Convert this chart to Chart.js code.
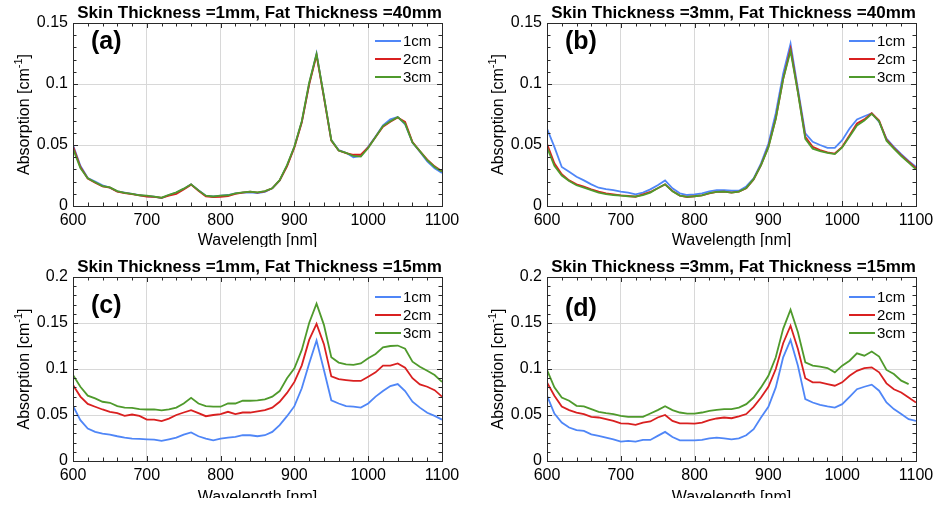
<!DOCTYPE html>
<html>
<head>
<meta charset="utf-8">
<script src="https://cdn.jsdelivr.net/npm/chart.js@4.4.1/dist/chart.umd.min.js"></script>
<style>
  html, body { margin: 0; padding: 0; background: #fff; }
  body { width: 935px; height: 505px; position: relative; overflow: hidden; }
  canvas { position: absolute; }
</style>
</head>
<body>
<canvas id="pa" width="465" height="250" style="left:0;top:0"></canvas>
<canvas id="pb" width="465" height="250" style="left:474px;top:0"></canvas>
<canvas id="pc" width="465" height="251" style="left:0;top:254px"></canvas>
<canvas id="pd" width="465" height="251" style="left:474px;top:254px"></canvas>
<script>
const wavelength = [600,610,620,630,640,650,660,670,680,690,700,710,720,730,740,750,760,770,780,790,800,
  810,820,830,840,850,860,870,880,890,900,910,920,930,940,950,960,970,980,990,1000,
  1010,1020,1030,1040,1050,1060,1070,1080,1090,1100];
const seriesNames = ['1cm', '2cm', '3cm'];
const xTicks = [600, 700, 800, 900, 1000, 1100];

// (a) skin 1mm, fat 40mm
const aBlue = [0.050,0.033,0.023,0.020,0.017,0.015,0.012,0.011,0.010,0.009,0.008,0.0076,0.0065,0.009,0.011,0.014,0.0177,0.013,0.0085,0.0078,0.0085,
  0.009,0.0104,0.011,0.0112,0.0105,0.0115,0.0145,0.021,0.033,0.0485,0.069,0.100,0.125,0.0895,0.054,0.0458,0.0436,0.040,0.041,0.0485,
  0.057,0.066,0.071,0.073,0.067,0.052,0.0445,0.0365,0.031,0.027];
const aRed = [0.049,0.032,0.0225,0.019,0.016,0.015,0.0118,0.0105,0.0098,0.0088,0.0078,0.0074,0.0066,0.0085,0.010,0.0135,0.0175,0.0125,0.0078,0.0072,0.0075,
  0.0082,0.010,0.011,0.0117,0.011,0.012,0.0145,0.021,0.0325,0.048,0.0685,0.0995,0.1235,0.089,0.0535,0.0455,0.0433,0.042,0.042,0.048,
  0.0565,0.065,0.069,0.0725,0.069,0.0525,0.045,0.038,0.0325,0.0285];
const aGreen = [0.047,0.031,0.0228,0.0195,0.0163,0.0152,0.0122,0.0108,0.0100,0.0088,0.0085,0.0076,0.0068,0.0092,0.0112,0.0142,0.0178,0.0128,0.0085,0.0078,0.0085,
  0.0088,0.0104,0.0112,0.0118,0.0112,0.0122,0.0145,0.0212,0.0335,0.0488,0.0695,0.101,0.1245,0.090,0.054,0.0455,0.0435,0.041,0.0405,0.0475,
  0.0565,0.0655,0.0695,0.0728,0.0675,0.052,0.045,0.0375,0.032,0.0282];

// (b) skin 3mm, fat 40mm
const bBlue = [0.0635,0.0485,0.032,0.028,0.024,0.021,0.0177,0.015,0.0139,0.013,0.0117,0.011,0.0095,0.011,0.0136,0.017,0.021,0.0145,0.0104,0.009,0.0095,
  0.0104,0.012,0.013,0.013,0.0125,0.0125,0.016,0.0226,0.035,0.051,0.076,0.1085,0.133,0.096,0.0595,0.0526,0.050,0.0477,0.0477,0.054,
  0.0635,0.071,0.0736,0.076,0.069,0.0553,0.0485,0.0425,0.037,0.032];
const bRed = [0.051,0.035,0.026,0.021,0.0177,0.0158,0.0136,0.0117,0.0104,0.0095,0.0087,0.0082,0.0076,0.0095,0.0115,0.0145,0.0177,0.0123,0.0085,0.0074,0.008,
  0.0087,0.0104,0.0115,0.0117,0.011,0.0117,0.0145,0.0218,0.0335,0.0485,0.0717,0.104,0.129,0.0935,0.0567,0.0485,0.0458,0.0439,0.043,0.0485,
  0.058,0.0676,0.071,0.076,0.070,0.0545,0.0477,0.0417,0.0363,0.031];
const bGreen = [0.048,0.033,0.025,0.0205,0.017,0.015,0.013,0.011,0.0098,0.009,0.0085,0.008,0.0078,0.009,0.011,0.0145,0.0178,0.012,0.0085,0.0075,0.008,
  0.0087,0.0105,0.0115,0.0117,0.011,0.0118,0.0148,0.022,0.0335,0.048,0.0715,0.104,0.127,0.093,0.055,0.047,0.045,0.0435,0.0425,0.048,
  0.057,0.066,0.070,0.0755,0.0695,0.0535,0.047,0.041,0.0355,0.030];

// (c) skin 1mm, fat 15mm
const cBlue = [0.060,0.0444,0.0353,0.0316,0.0298,0.0287,0.0269,0.0255,0.0244,0.024,0.0236,0.0233,0.0218,0.0236,0.0255,0.0287,0.031,0.0269,0.0244,0.0225,0.0244,
  0.0255,0.0262,0.028,0.028,0.0269,0.028,0.0316,0.039,0.0487,0.0596,0.079,0.106,0.131,0.099,0.066,0.0625,0.0596,0.059,0.058,0.0625,
  0.070,0.076,0.0815,0.0836,0.076,0.0644,0.058,0.0524,0.049,0.045];
const cRed = [0.0825,0.070,0.062,0.059,0.056,0.0535,0.052,0.049,0.0505,0.049,0.045,0.045,0.0433,0.046,0.050,0.0527,0.0553,0.052,0.0487,0.050,0.051,
  0.0535,0.051,0.0527,0.0527,0.054,0.0553,0.058,0.0644,0.074,0.086,0.104,0.1316,0.149,0.127,0.092,0.089,0.088,0.087,0.087,0.0916,
  0.0964,0.1036,0.1036,0.106,0.1015,0.090,0.0833,0.0807,0.077,0.070];
const cGreen = [0.0935,0.0807,0.071,0.068,0.0644,0.0633,0.0596,0.058,0.0578,0.0564,0.056,0.056,0.055,0.056,0.058,0.0625,0.0687,0.0625,0.0596,0.059,0.059,
  0.0625,0.0625,0.0655,0.0655,0.066,0.067,0.070,0.076,0.090,0.1007,0.1207,0.150,0.171,0.148,0.1127,0.107,0.105,0.1044,0.106,0.1116,
  0.1164,0.1236,0.125,0.1255,0.122,0.108,0.1025,0.098,0.0935,0.086];

// (d) skin 3mm, fat 15mm
const dBlue = [0.071,0.0516,0.0418,0.0364,0.0335,0.0327,0.029,0.0273,0.0255,0.0236,0.021,0.0218,0.021,0.0229,0.0229,0.0273,0.0316,0.026,0.0225,0.0225,0.0225,
  0.0229,0.0247,0.0255,0.0247,0.0236,0.0247,0.028,0.0345,0.0473,0.0589,0.080,0.1127,0.1316,0.1036,0.0673,0.0636,0.061,0.0593,0.058,0.0618,
  0.0698,0.078,0.0807,0.083,0.0764,0.0636,0.0564,0.051,0.0455,0.0436];
const dRed = [0.0855,0.071,0.0593,0.0553,0.0527,0.051,0.048,0.0473,0.0455,0.0436,0.041,0.0407,0.0393,0.0418,0.043,0.0473,0.050,0.0436,0.041,0.041,0.0407,
  0.0418,0.0444,0.0462,0.0473,0.0465,0.0484,0.051,0.0589,0.069,0.0807,0.100,0.128,0.147,0.1218,0.090,0.0855,0.0855,0.0836,0.0818,0.0855,
  0.0927,0.098,0.101,0.1018,0.0964,0.0844,0.078,0.0745,0.069,0.0636];
const dGreen = [0.099,0.080,0.069,0.0655,0.060,0.0593,0.0564,0.0535,0.052,0.051,0.049,0.048,0.048,0.048,0.0516,0.0553,0.0596,0.0553,0.0527,0.0516,0.0516,
  0.0527,0.0545,0.0556,0.0564,0.0564,0.058,0.0618,0.069,0.080,0.0927,0.1127,0.1436,0.1644,0.140,0.1073,0.1036,0.1025,0.101,0.0964,0.1036,
  0.109,0.117,0.1145,0.119,0.1135,0.099,0.0945,0.0873,0.0836,null];

const colors = ['#4f86f7', '#d92020', '#4f9a2c'];
const FONT = "'Liberation Sans', Arial, sans-serif";

// frame, inward ticks, titles, panel letter, legend
const decoPlugin = {
  id: 'deco',
  afterDraw(chart) {
    const o = chart.options.plugins.deco;
    const ctx = chart.ctx;
    const a = chart.chartArea;
    const xs = chart.scales.x, ys = chart.scales.y;
    ctx.save();
    ctx.strokeStyle = '#2a2a2a';
    ctx.lineWidth = 1;
    ctx.beginPath();
    for (let v = 600; v <= 1100; v += 20) {
      const px = Math.round(xs.getPixelForValue(v)) + 0.5;
      const len = v % 100 === 0 ? 5 : 3.5;
      ctx.moveTo(px, a.bottom); ctx.lineTo(px, a.bottom - len);
      ctx.moveTo(px, a.top); ctx.lineTo(px, a.top + len);
    }
    const n = Math.round(o.yMax / 0.01);
    for (let i = 0; i <= n; i++) {
      const py = Math.round(ys.getPixelForValue(i * 0.01)) + 0.5;
      const len = i % 5 === 0 ? 5 : 3.5;
      ctx.moveTo(a.left, py); ctx.lineTo(a.left + len, py);
      ctx.moveTo(a.right, py); ctx.lineTo(a.right - len, py);
    }
    ctx.stroke();
    ctx.strokeRect(Math.round(a.left) + 0.5, Math.round(a.top) + 0.5,
      Math.round(a.right - a.left), Math.round(a.bottom - a.top));

    // title
    ctx.fillStyle = '#000';
    ctx.font = 'bold 17px ' + FONT;
    ctx.textAlign = 'center';
    ctx.textBaseline = 'alphabetic';
    ctx.fillText(o.title, (a.left + a.right) / 2 + 2, a.top - 5);

    // panel letter
    ctx.font = 'bold 25px ' + FONT;
    ctx.textAlign = 'left';
    ctx.textBaseline = 'middle';
    ctx.fillText(o.letter, a.left + 18, o.letterY);

    // legend
    ctx.font = '15px ' + FONT;
    ctx.lineWidth = 2;
    chart.data.datasets.forEach((ds, i) => {
      const y = a.top + o.legendTop + i * 18;
      ctx.strokeStyle = ds.borderColor;
      ctx.beginPath();
      ctx.moveTo(a.right - 67, y); ctx.lineTo(a.right - 41, y);
      ctx.stroke();
      ctx.fillStyle = '#000';
      ctx.fillText(ds.label, a.right - 39, y + 1);
    });

    // y axis title with superscript
    ctx.save();
    ctx.translate(25, (a.top + a.bottom) / 2);
    ctx.rotate(-Math.PI / 2);
    ctx.textBaseline = 'middle';
    ctx.textAlign = 'left';
    const p1 = 'Absorption [cm', p3 = ']';
    ctx.font = '16px ' + FONT; const w1 = ctx.measureText(p1).width, w3 = ctx.measureText(p3).width;
    ctx.font = '11px ' + FONT; const w2 = ctx.measureText('-1').width;
    const x0 = -(w1 + w2 + w3) / 2;
    ctx.font = '16px ' + FONT; ctx.fillText(p1, x0, 0);
    ctx.font = '11px ' + FONT; ctx.fillText('-1', x0 + w1, -6);
    ctx.font = '16px ' + FONT; ctx.fillText(p3, x0 + w1 + w2, 0);
    ctx.restore();

    // x axis title, clipped at the figure cut
    ctx.beginPath();
    ctx.rect(0, 0, chart.width, o.clipY);
    ctx.clip();
    ctx.font = '16px ' + FONT;
    ctx.textAlign = 'center';
    ctx.textBaseline = 'alphabetic';
    ctx.fillStyle = '#000';
    ctx.fillText('Wavelength [nm]', (a.left + a.right) / 2, o.xTitleY);
    ctx.restore();
  }
};

function makePanel(id, title, letter, series, yMax, plotBottom, deco) {
  const canvas = document.getElementById(id);
  new Chart(canvas, {
    type: 'line',
    data: {
      datasets: series.map((vals, i) => ({
        label: seriesNames[i],
        data: wavelength.map((w, j) => ({ x: w, y: vals[j] })),
        borderColor: colors[i],
        borderWidth: 1.8,
        pointRadius: 0,
        tension: 0,
        order: series.length - i,
        spanGaps: false
      }))
    },
    options: {
      responsive: false,
      animation: false,
      devicePixelRatio: 1,
      layout: { padding: { left: 0, top: 23, right: 23, bottom: 0 } },
      plugins: {
        legend: { display: false },
        title: { display: false },
        tooltip: { enabled: false },
        deco: Object.assign({ title, letter, yMax }, deco)
      },
      scales: {
        x: {
          type: 'linear', min: 600, max: 1100,
          afterFit: s => { s.height = canvas.height - plotBottom; },
          afterBuildTicks: s => { s.ticks = xTicks.map(v => ({ value: v })); },
          border: { display: false },
          grid: { drawTicks: false, color: c => (c.tick && (c.tick.value === 600 || c.tick.value === 1100)) ? 'rgba(0,0,0,0)' : '#d8d8d8' },
          ticks: { padding: 5, color: '#000', font: { family: FONT, size: 16 }, maxRotation: 0, callback: v => String(v) }
        },
        y: {
          min: 0, max: yMax,
          afterFit: s => { s.width = 73; },
          border: { display: false },
          grid: { drawTicks: false, color: c => (c.tick && (c.tick.value === 0 || Math.abs(c.tick.value - yMax) < 1e-9)) ? 'rgba(0,0,0,0)' : '#d8d8d8' },
          ticks: { stepSize: 0.05, padding: 5, color: '#000', font: { family: FONT, size: 16 }, callback: v => String(+v.toFixed(2)) }
        }
      }
    },
    plugins: [decoPlugin]
  });
}

makePanel('pa', 'Skin Thickness =1mm, Fat Thickness =40mm', '(a)', [aBlue, aRed, aGreen], 0.15, 206,
  { letterY: 42, legendTop: 18, clipY: 247, xTitleY: 245 });
makePanel('pb', 'Skin Thickness =3mm, Fat Thickness =40mm', '(b)', [bBlue, bRed, bGreen], 0.15, 206,
  { letterY: 42, legendTop: 18, clipY: 247, xTitleY: 245 });
makePanel('pc', 'Skin Thickness =1mm, Fat Thickness =15mm', '(c)', [cBlue, cRed, cGreen], 0.2, 207,
  { letterY: 52, legendTop: 20, clipY: 244, xTitleY: 248 });
makePanel('pd', 'Skin Thickness =3mm, Fat Thickness =15mm', '(d)', [dBlue, dRed, dGreen], 0.2, 207,
  { letterY: 55, legendTop: 20, clipY: 244, xTitleY: 248 });
</script>
</body>
</html>
